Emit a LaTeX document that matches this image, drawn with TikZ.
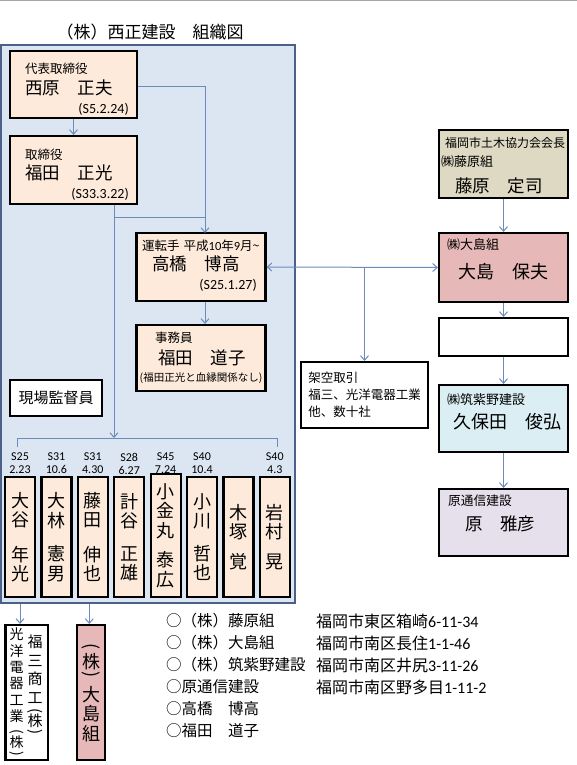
\documentclass[tikz,border=0pt]{standalone}
\usepackage{graphicx}
\usepackage{fontspec}
\setmainfont{Noto Sans CJK JP}
\newfontfamily\latfont{Carlito}
\usetikzlibrary{arrows.meta,positioning}
\definecolor{framefill}{RGB}{220,230,242}
\definecolor{framedraw}{RGB}{75,97,138}
\definecolor{peach}{RGB}{253,234,218}
\definecolor{boxtan}{RGB}{221,217,195}
\definecolor{boxrose}{RGB}{230,185,184}
\definecolor{boxice}{RGB}{219,238,244}
\definecolor{boxlav}{RGB}{229,224,236}
\definecolor{connblue}{RGB}{108,138,188}
\newcommand{\fsTitle}{\fontsize{17}{20}\selectfont}
\newcommand{\fsName}{\fontsize{17.5}{20}\selectfont}
\newcommand{\fsRole}{\fontsize{12.5}{15}\selectfont}
\newcommand{\fsDate}{\latfont\fontsize{14}{16}\selectfont}
\newcommand{\fsWorker}{\fontsize{18}{19.5}\selectfont}
\newcommand{\fsList}{\fontsize{15.5}{18}\selectfont}
% vertical parentheses for tategaki text
\newcommand{\vlp}{\rotatebox[origin=c]{-90}{(}}
\newcommand{\vrp}{\rotatebox[origin=c]{-90}{)}}
\tikzset{
  person/.style={
    draw=black,
    line width=2.2pt,
    fill=peach,
    minimum width=127pt,
    minimum height=67pt,
    inner sep=0pt
  },
  rbox/.style={person, minimum width=129pt},
  worker/.style={person, minimum width=30pt, align=center, font=\fsWorker},
  txt/.style={inner sep=0pt, anchor=west},
  rtxt/.style={inner sep=0pt, anchor=east},
  conn/.style={
    draw=connblue,
    line width=1pt,
    -{Straight Barb[length=4.5pt,width=8pt]}
  },
  connplain/.style={draw=connblue, line width=1pt},
  conn2/.style={conn, {Straight Barb[length=4.5pt,width=8pt]}-{Straight Barb[length=4.5pt,width=8pt]}}
}

\begin{document}
\begin{tikzpicture}[x=1pt, y=-1pt]
  \useasboundingbox (0,0) rectangle (577,765);
  \draw[gray!70, line width=1.2pt] (0,0.6) -- (577,0.6);

  % Title and company frame
  \node[font=\fsTitle, inner sep=0pt] (title) at (150,32) {（株）西正建設　組織図};
  \node[draw=framedraw, fill=framefill, line width=2pt, minimum width=293.5pt,
        minimum height=558pt, inner sep=0pt] (frame) at (147.75,324) {};

  % Officers
  \node[person] (nishi) at (73.5,84.5) {};
  \node[txt, font=\fsRole] (nishi-r) at (25,69) {代表取締役};
  \node[txt, font=\fsName] (nishi-n) at (25,88) {西原　正夫};
  \node[rtxt, font=\fsDate] (nishi-d) at (129,109) {(S5.2.24)};

  \node[person, minimum height=68pt] (fukuda) at (73.5,170) {};
  \node[txt, font=\fsRole] (fukuda-r) at (25,155) {取締役};
  \node[txt, font=\fsName] (fukuda-n) at (25,173) {福田　正光};
  \node[rtxt, font=\fsDate] (fukuda-d) at (129,194) {(S33.3.22)};

  \node[rbox, minimum height=68pt] (taka) at (201,267) {};
  \node[txt, font=\fsRole] (taka-r) at (142,246)
    {運転手\hspace{4pt}平成{\latfont 10}年{\latfont 9}月\textasciitilde};
  \node[txt, font=\fsName] (taka-n) at (152,264) {高橋　博高};
  \node[rtxt, font=\fsDate] (taka-d) at (257,285) {(S25.1.27)};

  \node[rbox, minimum height=66pt] (jimu) at (201,358) {};
  \node[txt, font=\fsRole] (jimu-r) at (155,338) {事務員};
  \node[txt, font=\fsName] (jimu-n) at (158,358) {福田　道子};
  \node[inner sep=0pt, font=\fontsize{10.5}{12}\selectfont] (jimu-x) at (201,378)
    {(福田正光と血縁関係なし)};

  \node[person, fill=white, minimum width=92pt, minimum height=36pt,
        font=\fontsize{15}{17}\selectfont] (genba) at (56,398) {現場監督員};

  % Workers
  \foreach \i/\h/\nm in {
    1/120/{大\\谷\\[15pt]年\\光},
    2/120/{大\\林\\[14pt]憲\\男},
    3/120/{藤\\田\\[15pt]伸\\也},
    4/120/{計\\谷\\[13pt]正\\雄},
    5/123/{小\\金\\丸\\[10pt]泰\\広},
    6/120/{小\\川\\[13pt]哲\\也},
    7/120/{木\\塚\\[10pt]覚},
    8/120/{岩\\村\\[10pt]晃}}
    \node[worker, minimum height=\h pt] (w\i) at ({20+36.4*(\i-1)},{597-\h/2}) {\nm};
  \foreach \i/\da/\db in {1/S25/2.23, 2/S31/10.6, 3/S31/4.30, 4/S28/6.27,
                          5/S45/7.24, 6/S40/10.4, 8/S40/4.3}
    \node[inner sep=0pt, align=center, font=\latfont\fontsize{12}{13}\selectfont]
      (d\i) at ({20+36.4*(\i-1)},463.5) {\da\\\db};

  % Outside companies
  \node[rbox, fill=boxtan, minimum height=68pt] (fuji) at (503.5,164) {};
  \node[txt, font=\fontsize{12}{14}\selectfont] (fuji-r) at (445,143) {福岡市土木協力会会長};
  \node[txt, font=\fontsize{13}{15}\selectfont] (fuji-c) at (441,162) {㈱藤原組};
  \node[txt, font=\fsName] (fuji-n) at (455,186) {藤原　定司};

  \node[rbox, fill=boxrose, minimum height=69pt] (oshima) at (503.5,267.5) {};
  \node[txt, font=\fontsize{13}{15}\selectfont] (oshima-c) at (447,245) {㈱大島組};
  \node[txt, font=\fontsize{18}{20}\selectfont] (oshima-n) at (458,272) {大島　保夫};

  \node[rbox, fill=white, minimum height=38pt] (blank) at (503.5,337) {};

  \node[rbox, fill=boxice, minimum height=67pt] (kubota) at (503.5,418.5) {};
  \node[txt, font=\fontsize{13}{15}\selectfont] (kubota-c) at (447,400) {㈱筑紫野建設};
  \node[txt, font=\fontsize{18}{20}\selectfont] (kubota-n) at (453,422) {久保田　俊弘};

  \node[rbox, fill=boxlav, minimum height=67pt] (hara) at (503.5,522.5) {};
  \node[txt, font=\fontsize{12.7}{15}\selectfont] (hara-c) at (448,501) {原通信建設};
  \node[txt, font=\fsName] (hara-n) at (465,524) {原　雅彦};

  \node[person, fill=white, minimum height=66pt, align=left,
        font=\fontsize{12.5}{17}\selectfont] (kakuu) at (364.5,395)
    {架空取引\\福三、光洋電器工業\\他、数十社};

  % Sub-contractors below
  \node[person, fill=white, minimum width=42.5pt, minimum height=135pt] (fusan) at (26.75,692.5) {};
  \node[inner sep=0pt, anchor=north, align=center, font=\fontsize{15}{18.5}\selectfont]
    (fusan-a) at (35,635) {福\\三\\商\\工\\[-6pt]\vlp\\[-8pt]株\\[-8pt]\vrp};
  \node[inner sep=0pt, anchor=north, align=center, font=\fontsize{14}{16.3}\selectfont]
    (fusan-b) at (16.5,628) {光\\洋\\電\\器\\工\\業\\[-2pt]\vlp\\[-4.5pt]株\\[-6pt]\vrp};
  \node[person, fill=boxrose, minimum width=28pt, minimum height=135pt, align=center,
        font=\fontsize{18}{19.5}\selectfont] (oshimab) at (91,692.5)
    {\vlp\\[-3pt]株\\[-8pt]\vrp\\[2pt]大\\島\\組};

  % Address list
  \foreach \j/\t in {1/○（株）藤原組, 2/○（株）大島組, 3/○（株）筑紫野建設,
                     4/○原通信建設, 5/○高橋　博高, 6/○福田　道子}
    \node[txt, font=\fsList] (l\j) at (166,{621+22*(\j-1)}) {\t};
  \foreach \j/\t in {1/福岡市東区箱崎{\latfont 6-11-34}, 2/福岡市南区長住{\latfont 1-1-46},
                     3/福岡市南区井尻{\latfont 3-11-26}, 4/福岡市南区野多目{\latfont 1-11-2}}
    \node[txt, font=\fontsize{16}{18}\selectfont] (a\j) at (316,{621+22*(\j-1)}) {\t};

  % Connectors
  \coordinate (tk) at (205,233);
  \coordinate (fj) at (114,217);
  \coordinate (fk) at (114,438);
  \coordinate (bl) at (17,438);
  \coordinate (br) at (277,438);
  \coordinate (bl0) at (17,447);
  \coordinate (br0) at (277,447);
  \draw[conn] (nishi.south) -- (fukuda.north);
  \draw[conn] ([yshift=-2.5pt]nishi.east) -| (tk);
  \draw[conn] (fukuda.south -| fk) -- (fk);
  \draw[connplain] (fj) -- (fj -| tk);
  \draw[connplain] (bl0) -- (bl) -- (br) -- (br0);
  \draw[conn] (taka.south -| tk) -- (jimu.north -| tk);
  \draw[conn2] (taka.east) -- (oshima.west);
  \draw[conn] (kakuu.north |- oshima.west) -- (kakuu.north);
  \draw[conn] (fuji.south) -- (oshima.north);
  \draw[conn] (oshima.south) -- (blank.north);
  \draw[conn] (blank.south) -- (kubota.north);
  \draw[conn] (kubota.south) -- (hara.north);
  \draw[conn] (w1.south |- frame.south) -- (w1.south |- fusan.north);
  \draw[conn] ([xshift=-3.5pt]w3.south |- frame.south) -- ([xshift=-3.5pt]w3.south |- oshimab.north);
\end{tikzpicture}
\end{document}
